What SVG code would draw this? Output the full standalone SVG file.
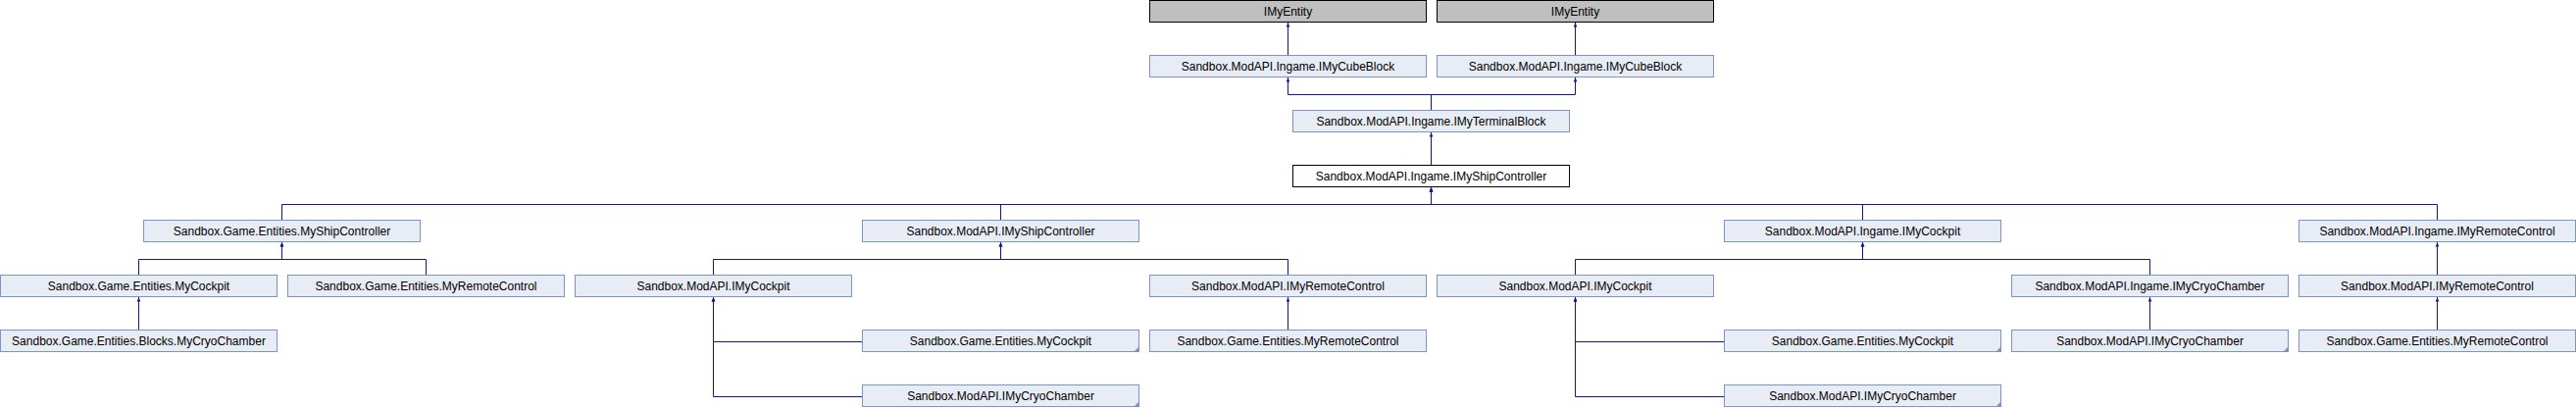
<svg xmlns="http://www.w3.org/2000/svg" width="2627" height="416" viewBox="0 0 2627 416">
<style>
.n rect{fill:#e8ecf5;stroke:#7b94c8;stroke-width:1}
.g rect{fill:#bfbfbf;stroke:#000;stroke-width:1}
.f rect{fill:#ffffff;stroke:#000;stroke-width:1}
.c{fill:#7b94c8}
text{font-family:"Liberation Sans",Arial,sans-serif;font-size:12px;fill:#000;text-anchor:middle}
#edges path{fill:none;stroke:#15158f;stroke-width:1;marker-end:url(#ah)}
</style>
<defs>
<marker id="ah" markerUnits="userSpaceOnUse" viewBox="0 0 10 10" refX="10" refY="5" markerWidth="6" markerHeight="4.5" orient="auto">
<path d="M0,1 L10,5 L0,9 z" fill="#15158f"/>
</marker>
</defs>
<rect width="2627" height="416" fill="#ffffff"/>
<g id="edges">
<path d="M1313.5,56 V23"/>
<path d="M1606.5,56 V23"/>
<path d="M1459.5,112 V96.5 H1313.5 V79"/>
<path d="M1459.5,112 V96.5 H1606.5 V79"/>
<path d="M1459.5,168 V135"/>
<path d="M287.5,224 V208.5 H1459.5 V191"/>
<path d="M1020.5,224 V208.5 H1459.5 V191"/>
<path d="M1899.5,224 V208.5 H1459.5 V191"/>
<path d="M2485.5,224 V208.5 H1459.5 V191"/>
<path d="M141.5,280 V264.5 H287.5 V247"/>
<path d="M434.5,280 V264.5 H287.5 V247"/>
<path d="M141.5,336 V303"/>
<path d="M727.5,280 V264.5 H1020.5 V247"/>
<path d="M1313.5,280 V264.5 H1020.5 V247"/>
<path d="M879,348.5 H727.5 V303"/>
<path d="M879,404.5 H727.5 V303"/>
<path d="M1313.5,336 V303"/>
<path d="M1606.5,280 V264.5 H1899.5 V247"/>
<path d="M2192.5,280 V264.5 H1899.5 V247"/>
<path d="M1758,348.5 H1606.5 V303"/>
<path d="M1758,404.5 H1606.5 V303"/>
<path d="M2192.5,336 V303"/>
<path d="M2485.5,280 V247"/>
<path d="M2485.5,336 V303"/>
</g>
<g id="entity1" class="g"><rect x="1172.5" y="0.5" width="282" height="22"/><text x="1313.5" y="16">IMyEntity</text></g>
<g id="entity2" class="g"><rect x="1465.5" y="0.5" width="282" height="22"/><text x="1606.5" y="16">IMyEntity</text></g>
<g id="cube1" class="n"><rect x="1172.5" y="56.5" width="282" height="22"/><text x="1313.5" y="72">Sandbox.ModAPI.Ingame.IMyCubeBlock</text></g>
<g id="cube2" class="n"><rect x="1465.5" y="56.5" width="282" height="22"/><text x="1606.5" y="72">Sandbox.ModAPI.Ingame.IMyCubeBlock</text></g>
<g id="terminal" class="n"><rect x="1318.5" y="112.5" width="282" height="22"/><text x="1459.5" y="128">Sandbox.ModAPI.Ingame.IMyTerminalBlock</text></g>
<g id="ingameShipController" class="f"><rect x="1318.5" y="168.5" width="282" height="22"/><text x="1459.5" y="184">Sandbox.ModAPI.Ingame.IMyShipController</text></g>
<g id="gameShipController" class="n"><rect x="146.5" y="224.5" width="282" height="22"/><text x="287.5" y="240">Sandbox.Game.Entities.MyShipController</text></g>
<g id="modShipController" class="n"><rect x="879.5" y="224.5" width="282" height="22"/><text x="1020.5" y="240">Sandbox.ModAPI.IMyShipController</text></g>
<g id="ingameCockpit" class="n"><rect x="1758.5" y="224.5" width="282" height="22"/><text x="1899.5" y="240">Sandbox.ModAPI.Ingame.IMyCockpit</text></g>
<g id="ingameRemoteControl" class="n"><rect x="2344.5" y="224.5" width="282" height="22"/><text x="2485.5" y="240">Sandbox.ModAPI.Ingame.IMyRemoteControl</text></g>
<g id="gameCockpit0" class="n"><rect x="0.5" y="280.5" width="282" height="22"/><text x="141.5" y="296">Sandbox.Game.Entities.MyCockpit</text></g>
<g id="gameRemoteControl1" class="n"><rect x="293.5" y="280.5" width="282" height="22"/><text x="434.5" y="296">Sandbox.Game.Entities.MyRemoteControl</text></g>
<g id="modCockpit2" class="n"><rect x="586.5" y="280.5" width="282" height="22"/><text x="727.5" y="296">Sandbox.ModAPI.IMyCockpit</text></g>
<g id="modRemoteControl4" class="n"><rect x="1172.5" y="280.5" width="282" height="22"/><text x="1313.5" y="296">Sandbox.ModAPI.IMyRemoteControl</text></g>
<g id="modCockpit5" class="n"><rect x="1465.5" y="280.5" width="282" height="22"/><text x="1606.5" y="296">Sandbox.ModAPI.IMyCockpit</text></g>
<g id="ingameCryoChamber" class="n"><rect x="2051.5" y="280.5" width="282" height="22"/><text x="2192.5" y="296">Sandbox.ModAPI.Ingame.IMyCryoChamber</text></g>
<g id="modRemoteControl8" class="n"><rect x="2344.5" y="280.5" width="282" height="22"/><text x="2485.5" y="296">Sandbox.ModAPI.IMyRemoteControl</text></g>
<g id="blocksCryoChamber" class="n"><rect x="0.5" y="336.5" width="282" height="22"/><text x="141.5" y="352">Sandbox.Game.Entities.Blocks.MyCryoChamber</text></g>
<g id="gameCockpit3" class="n"><rect x="879.5" y="336.5" width="282" height="22"/><polygon class="c" points="1162,353 1162,359 1156,359"/><text x="1020.5" y="352">Sandbox.Game.Entities.MyCockpit</text></g>
<g id="gameRemoteControl4" class="n"><rect x="1172.5" y="336.5" width="282" height="22"/><text x="1313.5" y="352">Sandbox.Game.Entities.MyRemoteControl</text></g>
<g id="gameCockpit6" class="n"><rect x="1758.5" y="336.5" width="282" height="22"/><polygon class="c" points="2041,353 2041,359 2035,359"/><text x="1899.5" y="352">Sandbox.Game.Entities.MyCockpit</text></g>
<g id="modCryoChamber7" class="n"><rect x="2051.5" y="336.5" width="282" height="22"/><polygon class="c" points="2334,353 2334,359 2328,359"/><text x="2192.5" y="352">Sandbox.ModAPI.IMyCryoChamber</text></g>
<g id="gameRemoteControl8" class="n"><rect x="2344.5" y="336.5" width="282" height="22"/><text x="2485.5" y="352">Sandbox.Game.Entities.MyRemoteControl</text></g>
<g id="modCryoChamber3" class="n"><rect x="879.5" y="392.5" width="282" height="22"/><polygon class="c" points="1162,409 1162,415 1156,415"/><text x="1020.5" y="408">Sandbox.ModAPI.IMyCryoChamber</text></g>
<g id="modCryoChamber6" class="n"><rect x="1758.5" y="392.5" width="282" height="22"/><polygon class="c" points="2041,409 2041,415 2035,415"/><text x="1899.5" y="408">Sandbox.ModAPI.IMyCryoChamber</text></g>
</svg>
